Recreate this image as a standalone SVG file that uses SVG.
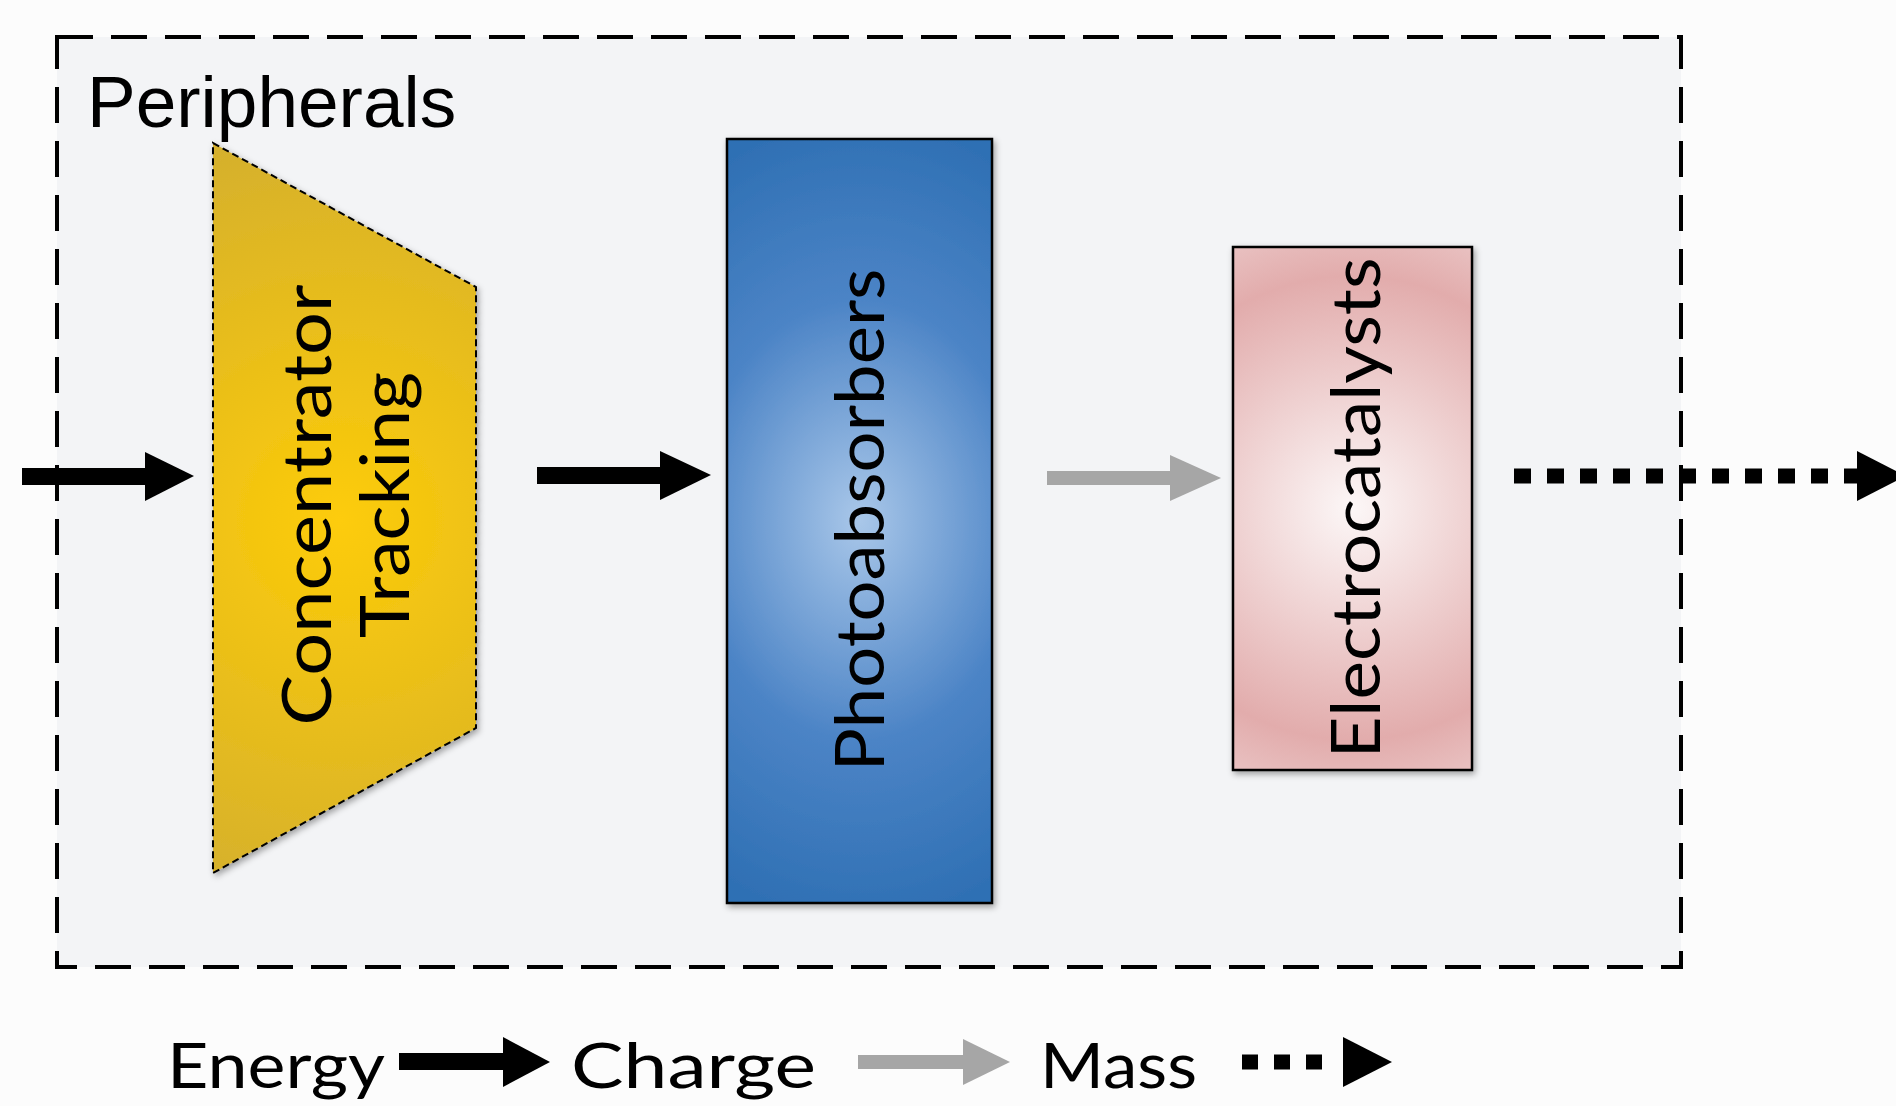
<svg xmlns="http://www.w3.org/2000/svg" width="1896" height="1106" viewBox="0 0 1896 1106">
  <style>
    .lbl { font-family: "Liberation Sans", Arial, sans-serif; fill: #000; }
    .cg { font-family: "Lato", "Liberation Sans", sans-serif; font-weight: 400; fill: #000; }
    .node-label { font-size: 68px; }
    .legend { font-size: 62px; }
    .energy { fill: #000; }
    .charge { fill: #A6A6A6; }
  </style>
  <defs>
    <radialGradient id="gGold" gradientUnits="userSpaceOnUse" cx="340" cy="520" r="420">
      <stop offset="0" stop-color="#FDCC08"/>
      <stop offset="1" stop-color="#D2AE30"/>
    </radialGradient>
    <radialGradient id="gBlue" gradientUnits="userSpaceOnUse" cx="860" cy="520" r="400" gradientTransform="translate(860 520) scale(0.75 1) translate(-860 -520)">
      <stop offset="0" stop-color="#A9C7E9"/>
      <stop offset="0.55" stop-color="#4C84C6"/>
      <stop offset="1" stop-color="#2F70B4"/>
    </radialGradient>
    <radialGradient id="gPink" gradientUnits="userSpaceOnUse" cx="1353" cy="508" r="290">
      <stop offset="0" stop-color="#FCF7F7"/>
      <stop offset="0.8" stop-color="#E2ACAC"/>
      <stop offset="1" stop-color="#E9C2C2"/>
    </radialGradient>
    <filter id="shadow" x="-10%" y="-10%" width="120%" height="120%">
      <feDropShadow dx="2" dy="3" stdDeviation="3" flood-color="#000" flood-opacity="0.35"/>
    </filter>
  </defs>

  <rect x="0" y="0" width="1896" height="1106" fill="#FCFCFC"/>

  <g id="peripherals">
    <rect x="57" y="37" width="1624" height="930" fill="#F3F4F6" stroke="#000" stroke-width="4" stroke-dasharray="36 18"/>
    <text class="lbl" x="87" y="127" font-size="73">Peripherals</text>
  </g>

  <g id="concentrator">
    <polygon points="213,143 476,287 476,728 213,873" fill="url(#gGold)" stroke="#000" stroke-width="2" stroke-dasharray="7 4" filter="url(#shadow)"/>
    <text class="cg node-label" transform="translate(331,505) rotate(-90)" text-anchor="middle" textLength="441" lengthAdjust="spacingAndGlyphs">Concentrator</text>
    <text class="cg node-label" transform="translate(409,505) rotate(-90)" text-anchor="middle" textLength="266" lengthAdjust="spacingAndGlyphs">Tracking</text>
  </g>

  <g id="photoabsorbers">
    <rect x="727" y="139" width="265" height="764" fill="url(#gBlue)" stroke="#000" stroke-width="2.5" filter="url(#shadow)"/>
    <text class="cg node-label" transform="translate(884,520) rotate(-90)" text-anchor="middle" textLength="503" lengthAdjust="spacingAndGlyphs">Photoabsorbers</text>
  </g>

  <g id="electrocatalysts">
    <rect x="1233" y="247" width="239" height="523" fill="url(#gPink)" stroke="#000" stroke-width="2.5" filter="url(#shadow)"/>
    <text class="cg node-label" transform="translate(1380,508) rotate(-90)" text-anchor="middle" textLength="501" lengthAdjust="spacingAndGlyphs">Electrocatalysts</text>
  </g>

  <g id="connectors">
    <rect class="energy" x="22" y="468" width="125" height="17"/>
    <polygon class="energy" points="145,452 194,476 145,501"/>
    <rect class="energy" x="537" y="467" width="126" height="17"/>
    <polygon class="energy" points="660,451 711,475 660,500"/>
    <rect class="charge" x="1047" y="471" width="125" height="14"/>
    <polygon class="charge" points="1170,455 1221,478 1170,501"/>
    <line x1="1514" y1="476" x2="1858" y2="476" stroke="#000" stroke-width="15" stroke-dasharray="17 16"/>
    <polygon class="energy" points="1857,451 1906,476 1857,501"/>
  </g>

  <g id="legend">
    <text class="cg legend" x="167" y="1088" textLength="218" lengthAdjust="spacingAndGlyphs">Energy</text>
    <rect class="energy" x="399" y="1053" width="108" height="17"/>
    <polygon class="energy" points="503,1037 550,1062 503,1087"/>
    <text class="cg legend" x="571" y="1088" textLength="245" lengthAdjust="spacingAndGlyphs">Charge</text>
    <rect class="charge" x="858" y="1055" width="108" height="14"/>
    <polygon class="charge" points="963,1039 1010,1062 963,1085"/>
    <text class="cg legend" x="1040" y="1088" textLength="157" lengthAdjust="spacingAndGlyphs">Mass</text>
    <line x1="1242" y1="1062" x2="1330" y2="1062" stroke="#000" stroke-width="15" stroke-dasharray="16 16"/>
    <polygon class="energy" points="1343,1037 1392,1062 1343,1087"/>
  </g>
</svg>
